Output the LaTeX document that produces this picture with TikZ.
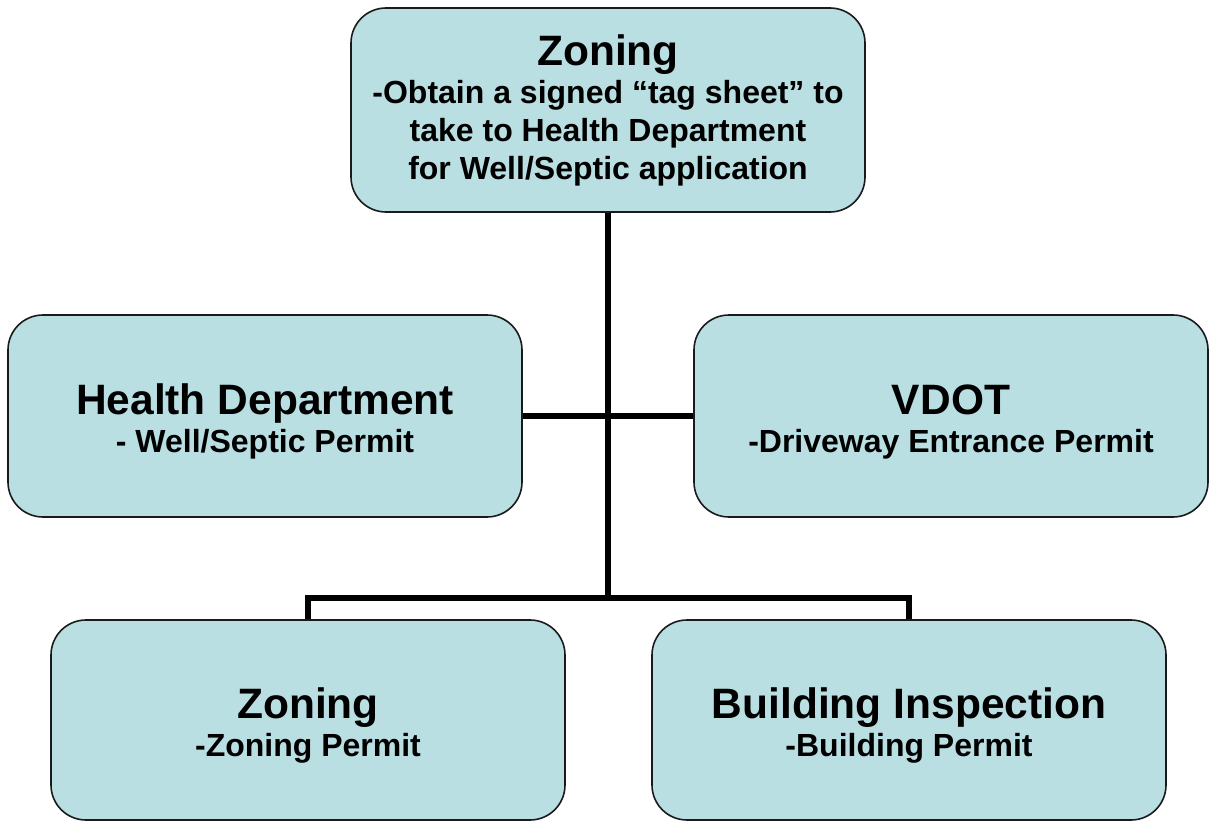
\documentclass[tikz,border=0pt]{standalone}
\usepackage{fontspec}
\setmainfont{Liberation Sans}
\definecolor{boxfill}{HTML}{B9DFE3}
\definecolor{boxline}{HTML}{1A1A1A}
\tikzset{
  orgbox/.style={draw=boxline, line width=1.6pt, fill=boxfill, rounded corners=35pt,
    minimum width=514pt, minimum height=202pt, align=center, inner sep=0pt,
    font=\fontsize{32}{38}\selectfont\bfseries},
  link/.style={line width=5.5pt, black},
}
\newcommand{\ttl}[1]{{\fontsize{42.5}{40}\selectfont #1}}
\newcommand{\lowttl}[1]{\rule{0pt}{41pt}{\fontsize{42.5}{40}\selectfont #1}}
\begin{document}
\begin{tikzpicture}[x=1pt,y=-1pt]
\useasboundingbox (0,0) rectangle (1212,821);
\node[orgbox, minimum height=204pt] (top) at (608,110)
  {\ttl{Zoning}\\-Obtain a signed “tag sheet” to\\take to Health Department\\for Well/Septic application};
\node[orgbox] (health) at (265,416) {\lowttl{Health Department}\\- Well/Septic Permit};
\node[orgbox] (vdot) at (951,416) {\lowttl{VDOT}\\-Driveway Entrance Permit};
\node[orgbox, minimum height=200pt] (zoning) at (308,720) {\lowttl{Zoning}\\-Zoning Permit};
\node[orgbox, minimum height=200pt] (building) at (909,720) {\lowttl{Building Inspection}\\-Building Permit};
\coordinate (junc) at (608,598);
\draw[link] (top.south) -- (junc);
\draw[link] (health.east) -- (vdot.west);
\draw[link] (zoning.north) -- (zoning.north |- junc) -- (building.north |- junc) -- (building.north);
\end{tikzpicture}
\end{document}
